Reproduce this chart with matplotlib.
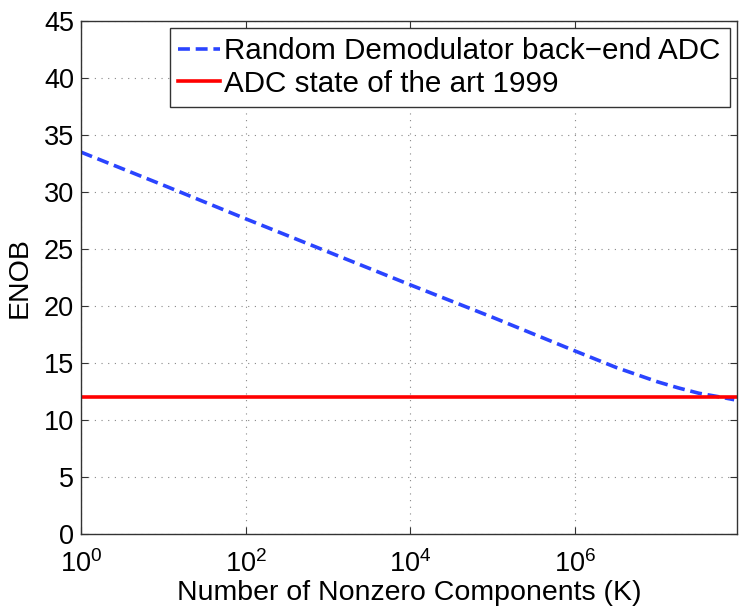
import numpy as np
import matplotlib
matplotlib.use('Agg')
import matplotlib.pyplot as plt
from matplotlib.ticker import FixedLocator, NullLocator, LogFormatterSciNotation

plt.rcParams['font.family'] = ['Liberation Sans', 'DejaVu Sans']
plt.rcParams['mathtext.fontset'] = 'custom'
plt.rcParams['mathtext.rm'] = 'Liberation Sans'
plt.rcParams['mathtext.it'] = 'Liberation Sans'

# values
k_decades = [0, 1, 2, 3, 4, 5, 6, 6.5, 7, 7.25, 7.5, 7.75, 7.93]
enob_rd = [33.5, 30.6, 27.65, 24.75, 21.85, 19.0, 16.05, 14.6, 13.35, 12.82, 12.35, 12.03, 11.78]
enob_sota = 12.0
x_max = 9.2e7

k = [10 ** d for d in k_decades]

fig = plt.figure(figsize=(7.47, 6.11), dpi=100)
ax = fig.add_axes([0.1084, 0.126, 0.8782, 0.8396])

ax.semilogx(k, enob_rd, color='#2a44ff', lw=2.6, dashes=(3.3, 1.6),
            label='Random Demodulator back\u2212end ADC')
ax.semilogx([1, x_max], [enob_sota, enob_sota], color='#ff0000', lw=2.6,
            label='ADC state of the art 1999')

ax.set_xlim(1, x_max)
ax.set_ylim(0, 45)
ax.xaxis.set_major_locator(FixedLocator([1, 1e2, 1e4, 1e6]))
ax.xaxis.set_major_formatter(LogFormatterSciNotation())
ax.xaxis.set_minor_locator(NullLocator())
ax.set_yticks(np.arange(0, 46, 5))

ax.grid(True, which='major', linestyle=(0, (1, 5)), color='#888888', lw=0.8)
ax.tick_params(direction='in', top=True, right=True, labelsize=19.5,
               length=5, color='#333333', pad=5)
ax.tick_params(axis='x', pad=12)
for s in ax.spines.values():
    s.set_color('#333333')
    s.set_linewidth(1.0)

ax.set_xlabel('Number of Nonzero Components (K)', fontsize=20.5, labelpad=1)
ax.set_ylabel('ENOB', fontsize=20.5, labelpad=8)

leg = ax.legend(loc='upper right', fontsize=21.3, fancybox=False, framealpha=1,
                edgecolor='#333333', borderpad=0.3, labelspacing=0.15,
                handlelength=1.4, handletextpad=0.15, borderaxespad=0.25)
leg.get_frame().set_linewidth(1.0)

fig.savefig('out.png', dpi=100)
